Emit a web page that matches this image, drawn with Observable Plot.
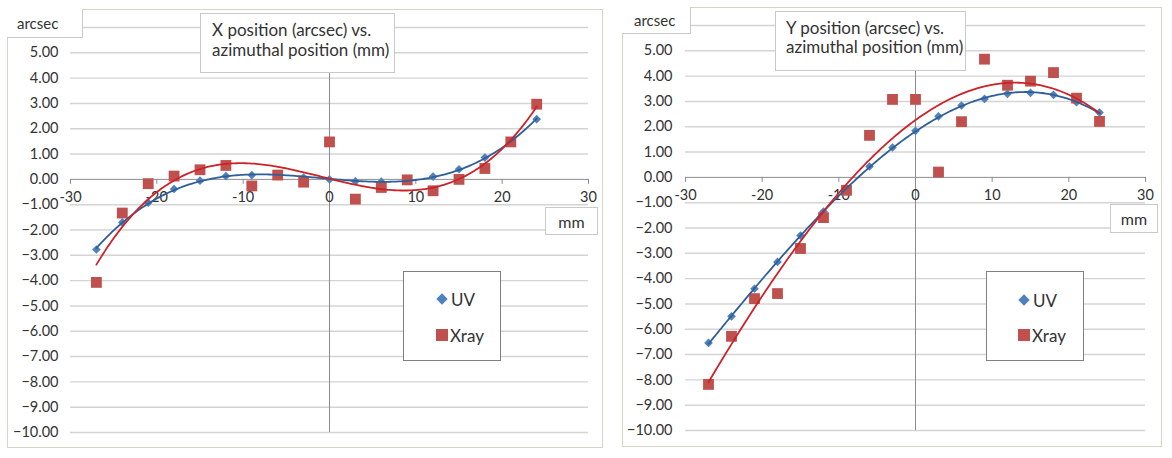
<!DOCTYPE html>
<html><head><meta charset="utf-8">
<script src="https://cdn.jsdelivr.net/npm/d3@7"></script>
<script src="https://cdn.jsdelivr.net/npm/@observablehq/plot@0.6"></script>
<style>
body{margin:0;background:#fff;font-family:Lato,"Noto Sans",sans-serif;color:#333}
#wrap{position:relative;width:1172px;height:458px;overflow:hidden;background:#fff}
.panel{position:absolute;border:1.5px solid #d5d5c5;box-sizing:border-box;background:#fff}
.plot{position:absolute;top:0}
.box{position:absolute;background:#fff;border:1px solid #c9c9c9;box-sizing:border-box;font-size:15px;color:#333;white-space:nowrap;overflow:hidden}
.title{font-size:17px}
.mm{font-size:16px}
.legend{position:absolute;background:#fff;border:1px solid #808080;box-sizing:border-box;font-size:17px;color:#333}
.row{position:absolute;display:flex;align-items:center;height:20px}
.dia{width:8px;height:8px;background:#4f81bd;transform:rotate(45deg);margin-right:5px;margin-left:-6px}
.sq{width:12px;height:12px;background:#c0504d;margin-right:2px;margin-left:-8px}
</style>
</head><body>
<div id="wrap">
  <div class="panel" style="left:7px;top:9px;width:596px;height:439px"></div>
  <div class="panel" style="left:622px;top:7px;width:540px;height:440px"></div>
  <div id="left" class="plot" style="left:0px"></div>
  <div id="right" class="plot" style="left:610px"></div>

  <div class="box" style="left:7px;top:9px;width:76px;height:29px;padding-left:10px;line-height:28px;border-left:none;border-top:none">arcsec</div>
  <div class="box" style="left:622px;top:7px;width:69px;height:27px;padding-left:12px;line-height:26px;border-left:none;border-top:none">arcsec</div>

  <div class="box title" style="left:200px;top:13px;width:195px;height:60px;padding:6px 0 0 11px;line-height:20px">X position (arcsec) vs.<br>azimuthal position (mm)</div>
  <div class="box title" style="left:775px;top:11px;width:191px;height:60px;padding:6px 0 0 10px;line-height:19px">Y position (arcsec) vs.<br>azimuthal position (mm)</div>

  <div class="box mm" style="left:545px;top:207px;width:53px;height:28px;text-align:center;line-height:27px">mm</div>
  <div class="box mm" style="left:1110px;top:204px;width:48px;height:29px;text-align:center;line-height:28px">mm</div>

  <div class="legend" style="left:403px;top:271px;width:98px;height:90px">
    <div class="row" style="left:40px;top:17px"><div class="dia"></div>UV</div>
    <div class="row" style="left:40px;top:53px"><div class="sq"></div>Xray</div>
  </div>
  <div class="legend" style="left:986px;top:271px;width:98px;height:90px">
    <div class="row" style="left:39px;top:18px"><div class="dia"></div>UV</div>
    <div class="row" style="left:39px;top:53px"><div class="sq"></div>Xray</div>
  </div>
</div>
<script>
// azimuthal position (mm)
const positions = [-27, -24, -21, -18, -15, -12, -9, -6, -3, 0, 3, 6, 9, 12, 15, 18, 21, 24];
// X position (arcsec)
const xUV   = [-2.77, -1.70, -0.92, -0.38, -0.05, 0.13, 0.17, 0.14, 0.07, 0.00, -0.08, -0.09, -0.03, 0.11, 0.40, 0.86, 1.48, 2.38];
const xXray = [-4.07, -1.33, -0.17, 0.13, 0.38, 0.55, -0.26, 0.17, -0.11, 1.48, -0.78, -0.32, -0.02, -0.45, 0.00, 0.43, 1.48, 2.97];
// Y position (arcsec)
const yUV   = [-6.54, -5.49, -4.40, -3.34, -2.30, -1.35, -0.47, 0.43, 1.18, 1.84, 2.41, 2.84, 3.10, 3.30, 3.34, 3.26, 2.97, 2.56];
const yXray = [-8.18, -6.28, -4.79, -4.59, -2.81, -1.59, -0.51, 1.66, 3.08, 3.08, 0.21, 2.20, 4.67, 3.64, 3.80, 4.14, 3.13, 2.21];
// axes
const xTicks = [-30, -20, -10, 0, 10, 20, 30];
const yTicks = [-10, -9, -8, -7, -6, -5, -4, -3, -2, -1, 0, 1, 2, 3, 4, 5];
const yGrid  = [-10, -9, -8, -7, -6, -5, -4, -3, -2, -1, 1, 2, 3, 4, 5, 6];

// least-squares polynomial trendline (like Excel's)
function polyfit(xs, ys, deg) {
  const n = deg + 1;
  const A = Array.from({length: n}, () => new Array(n + 1).fill(0));
  for (let k = 0; k < xs.length; k++) {
    for (let i = 0; i < n; i++) {
      for (let j = 0; j < n; j++) A[i][j] += Math.pow(xs[k], i + j);
      A[i][n] += ys[k] * Math.pow(xs[k], i);
    }
  }
  for (let c = 0; c < n; c++) {
    let p = c;
    for (let r = c + 1; r < n; r++) if (Math.abs(A[r][c]) > Math.abs(A[p][c])) p = r;
    [A[c], A[p]] = [A[p], A[c]];
    for (let r = 0; r < n; r++) if (r !== c) {
      const f = A[r][c] / A[c][c];
      for (let j = c; j <= n; j++) A[r][j] -= f * A[c][j];
    }
  }
  const coef = A.map((row, i) => row[n] / row[i]);
  return x => coef.reduce((s, c, i) => s + c * Math.pow(x, i), 0);
}

function trend(xs, ys) {
  const f = polyfit(xs, ys, 3);
  const lo = d3.min(xs), hi = d3.max(xs);
  return d3.range(lo, hi + 1e-9, 0.25).map(x => ({x, y: f(x)}));
}

function panel(uv, xray, o) {
  const pts = (vals) => positions.map((p, i) => ({x: p, y: vals[i]}));
  return Plot.plot({
    width: o.width, height: 458,
    marginLeft: o.ml, marginRight: o.mr, marginTop: o.mt, marginBottom: o.mb,
    style: {fontFamily: "Lato, 'Noto Sans', sans-serif", fontSize: "14px", color: "#333", background: "transparent", overflow: "visible"},
    x: {domain: [-30, 30], axis: null},
    y: {domain: [-10, 6], axis: null},
    marks: [
      Plot.gridY(yGrid, {stroke: "#d4d4d4", strokeOpacity: 1, strokeWidth: 1.4}),
      Plot.ruleX([0], {stroke: "#8c8c8c", strokeWidth: 1}),
      Plot.ruleY([0], {stroke: "#8c8c8c", strokeWidth: 1}),
      Plot.ruleX(xTicks, {x: d => d, y1: 0, y2: 0, insetBottom: -5, stroke: "#8c8c8c"}),
      Plot.text(xTicks, {x: d => d, y: 0, dy: 18, text: d => String(d), fill: "#333", fontSize: 14.5}),
      Plot.axisY(yTicks, {label: null, tickSize: 0, tickPadding: o.pad, tickFormat: d3.format(".2f"), fontSize: 14.5, fill: "#333"}),
      Plot.dot(pts(uv), {x: "x", y: "y", symbol: "diamond2", r: 3.9, fill: "#4f81bd", stroke: "none"}),
      Plot.dot(pts(xray), {x: "x", y: "y", symbol: "square", r: 6.1, fill: "#c0504d", stroke: "none"}),
      Plot.line(trend(positions, uv), {x: "x", y: "y", stroke: "#2f5f98", strokeWidth: 1.8}),
      Plot.line(trend(positions, xray), {x: "x", y: "y", stroke: "#cc2229", strokeWidth: 1.8})
    ]
  });
}

document.getElementById("left").append(panel(xUV, xXray, {width: 610, ml: 70, mr: 22, mt: 27, mb: 26, pad: 12}));
document.getElementById("right").append(panel(yUV, yXray, {width: 562, ml: 75, mr: 27, mt: 25, mb: 28, pad: 13}));
</script>
</body></html>
